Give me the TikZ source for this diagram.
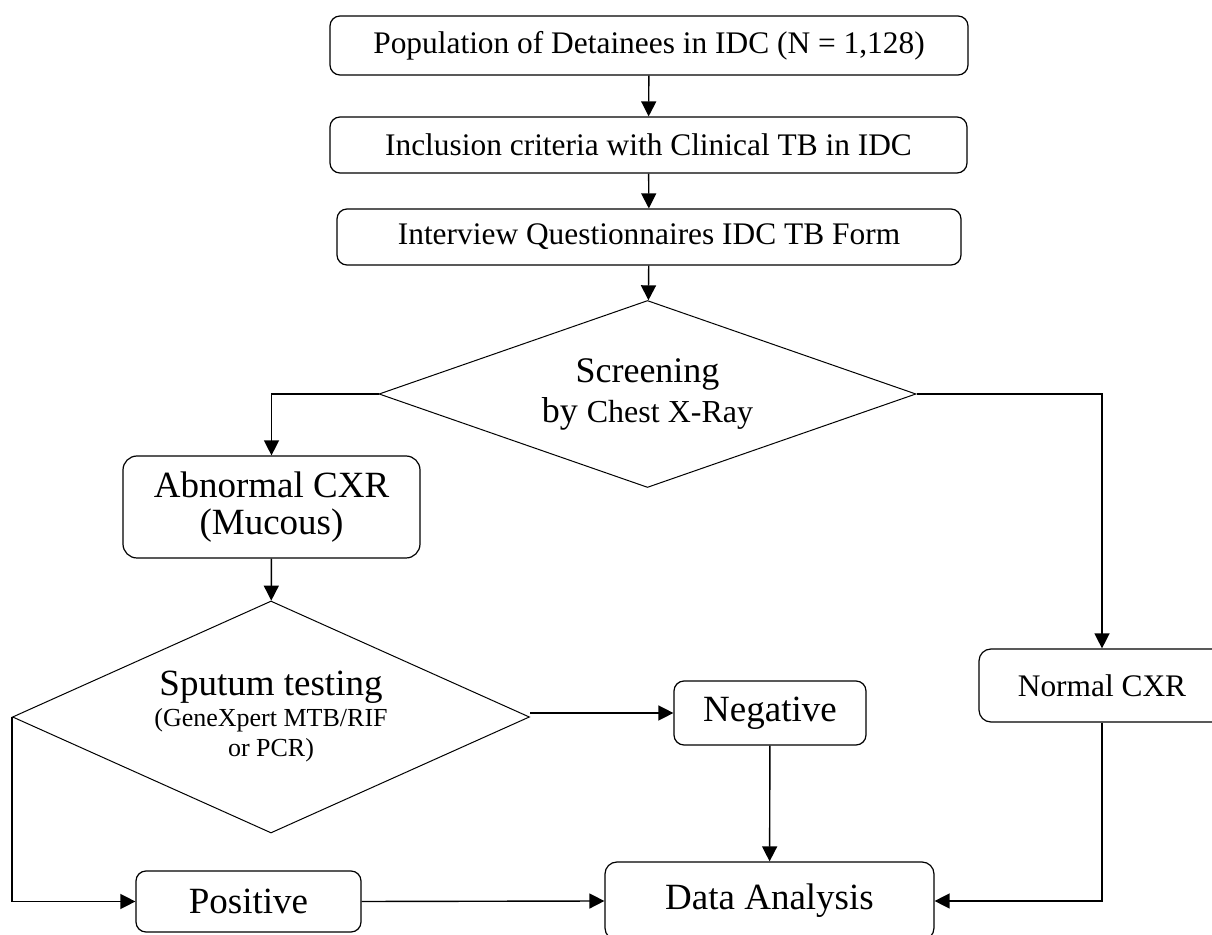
\documentclass[tikz,border=0pt]{standalone}
\usepackage{fontspec}
\setmainfont{Liberation Serif}
\usetikzlibrary{positioning,shapes.geometric,arrows.meta}

\begin{document}
\begin{tikzpicture}[
  x=0.5pt, y=-0.5pt,
  stepbox/.style={rectangle, rounded corners=5pt, draw=black, line width=0.6pt, inner sep=0pt, align=center},
  topbox/.style={stepbox, font=\fontsize{15.7}{18}\selectfont},
  bigbox/.style={stepbox, font=\fontsize{18.5}{18.5}\selectfont},
  decision/.style={diamond, draw=black, line width=0.5pt, inner sep=0pt, align=center},
  arrow/.style={-{Triangle[length=7.5pt, width=7.5pt]}, line width=0.7pt}
]
\useasboundingbox (0,0) rectangle (1212,935);

% Draw the steps at the top
\node[topbox, minimum width=319pt, minimum height=29.5pt] (pop) at (649,45.5) {Population of Detainees in IDC (N = 1,128)};
\node[topbox, minimum width=318.5pt, minimum height=28pt] (incl) at (648.5,145) {Inclusion criteria with Clinical TB in IDC};
\node[topbox, minimum width=312pt, minimum height=28pt] (form) at (649,237) {Interview Questionnaires IDC TB Form};

% Draw the screening decision
\node[decision, aspect=2.86, minimum width=268.5pt, minimum height=93.5pt, font=\fontsize{18}{20}\selectfont] (screen) at (647.5,394)
  {Screening\\by {\fontsize{16}{20}\selectfont Chest X-Ray}};

% Draw the two results of the screening
\node[bigbox, rounded corners=7pt, minimum width=148.5pt, minimum height=51pt] (abn) at (271.5,507) {Abnormal CXR\\(Mucous)};
\node[topbox, rounded corners=6pt, minimum width=123pt, minimum height=36.5pt] (normal) at (1102,685.5) {Normal CXR};

% Draw the sputum test and its results
\node[decision, aspect=2.23, minimum width=258.5pt, minimum height=116pt, font=\fontsize{13}{15}\selectfont] (sputum) at (271,717)
  {{\fontsize{18.5}{16}\selectfont Sputum testing}\\[0.5pt](GeneXpert MTB/RIF\\or PCR)};
\node[bigbox, minimum width=96pt, minimum height=32pt] (neg) at (770,713) {Negative};
\node[bigbox, minimum width=112.5pt, minimum height=30.5pt] (pos) at (248.5,901.5) {Positive};

% Draw the analysis
\node[bigbox, rounded corners=6pt, minimum width=164.5pt, minimum height=39pt] (data) at (769.5,901) {Data Analysis};

% Connect the steps
\draw[arrow] (pop) -- (incl);
\draw[arrow] (incl) -- (form);
\draw[arrow] (form) -- (screen);
\draw[arrow] (screen.west) -| (abn.north);
\draw[arrow] (screen.east) -| (normal.north);
\draw[arrow] (abn) -- (sputum);
\draw[arrow] (sputum.east |- neg.west) -- (neg.west);
\draw[arrow] (sputum.west) |- (pos.west);
\draw[arrow] (pos.east) -- (data.west);
\draw[arrow] (neg) -- (data);
\draw[arrow] (normal.south) |- (data.east);

\end{tikzpicture}
\end{document}
